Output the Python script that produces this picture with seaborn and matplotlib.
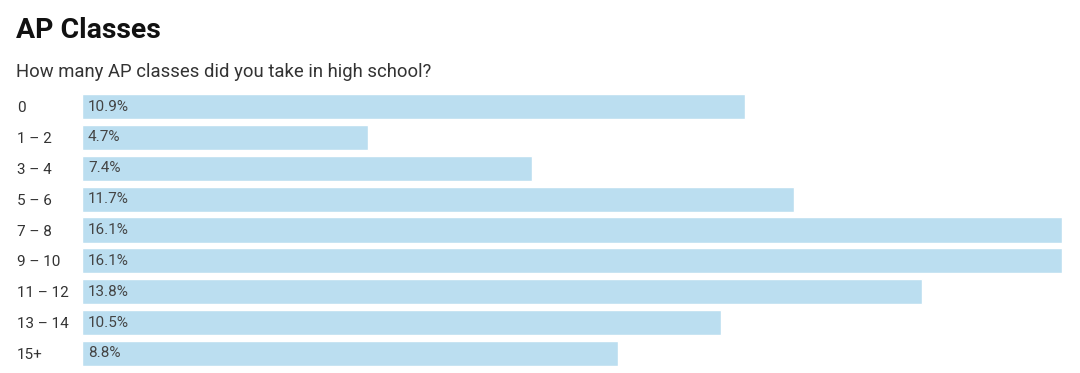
import matplotlib
matplotlib.use("Agg")
import matplotlib.pyplot as plt
import matplotlib.transforms as mtransforms
import seaborn as sns
import pandas as pd

categories = ["0", "1 \u2013 2", "3 \u2013 4", "5 \u2013 6", "7 \u2013 8", "9 \u2013 10", "11 \u2013 12", "13 \u2013 14", "15+"]
values = [10.9, 4.7, 7.4, 11.7, 16.1, 16.1, 13.8, 10.5, 8.8]
title = "AP Classes"
subtitle = "How many AP classes did you take in high school?"

sns.set_theme(style="white")
plt.rcParams["font.family"] = ["Roboto", "DejaVu Sans"]

df = pd.DataFrame({"cat": categories, "val": values})

W, H = 1080, 373
fig = plt.figure(figsize=(W / 100, H / 100), dpi=100)
ax = fig.add_axes([82 / W, 1 - 366 / H, (1062 - 82) / W, (366 - 94) / H])

sns.barplot(data=df, x="val", y="cat", orient="h", color="#BBDEF0",
            saturation=1, width=0.81, ax=ax)

ax.set_xlim(0, max(values))
ax.set_ylim(len(categories) - 1 + 0.405, -0.405)
for s in ax.spines.values():
    s.set_visible(False)
ax.set_xticks([])
ax.set_xlabel("")
ax.set_ylabel("")
ax.tick_params(axis="y", length=0, pad=(82 - 17) * 0.72, labelsize=11, labelcolor="#333333")
for lbl in ax.get_yticklabels():
    lbl.set_horizontalalignment("left")

trans = mtransforms.blended_transform_factory(ax.transAxes, ax.transData)
trans = trans + mtransforms.ScaledTranslation(6 / 100, 0, fig.dpi_scale_trans)
for i, v in enumerate(values):
    ax.text(0, i, f"{v:.1f}%", transform=trans, va="center", ha="left",
            fontsize=11, color="#444444")

fig.text(16 / W, 1 - 30 / H, title, fontsize=20.4, fontweight="bold",
         color="#111111", va="center", ha="left")
fig.text(16 / W, 1 - 72 / H, subtitle, fontsize=13.3, color="#333333",
         va="center", ha="left")

fig.savefig("out.png", dpi=100, facecolor="white")
